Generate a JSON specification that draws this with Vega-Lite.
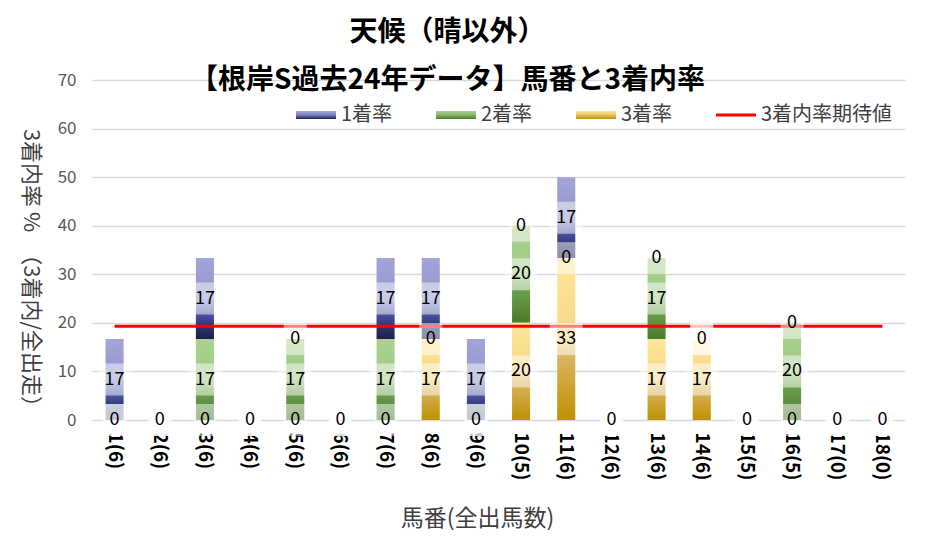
{
  "$schema": "https://vega.github.io/schema/vega-lite/v6.json",
  "width": 813,
  "height": 340,
  "autosize": {"type": "none"},
  "padding": {"left": 92, "top": 80, "right": 36, "bottom": 119},
  "background": "white",
  "config": {
    "font": "Noto Sans CJK JP",
    "view": {"stroke": null}
  },
  "title": {
    "text": ["天候（晴以外）", "【根岸S過去24年データ】馬番と3着内率"],
    "fontSize": 28,
    "fontWeight": "bold",
    "color": "#000000",
    "lineHeight": 48,
    "anchor": "middle",
    "frame": "group",
    "dx": -51,
    "offset": -24
  },
  "datasets": {
    "rates": [
      {"horse": "1(6)", "type": "1着率", "rate": 16.67},
      {"horse": "1(6)", "type": "2着率", "rate": 0},
      {"horse": "1(6)", "type": "3着率", "rate": 0},
      {"horse": "2(6)", "type": "1着率", "rate": 0},
      {"horse": "2(6)", "type": "2着率", "rate": 0},
      {"horse": "2(6)", "type": "3着率", "rate": 0},
      {"horse": "3(6)", "type": "1着率", "rate": 16.67},
      {"horse": "3(6)", "type": "2着率", "rate": 16.67},
      {"horse": "3(6)", "type": "3着率", "rate": 0},
      {"horse": "4(6)", "type": "1着率", "rate": 0},
      {"horse": "4(6)", "type": "2着率", "rate": 0},
      {"horse": "4(6)", "type": "3着率", "rate": 0},
      {"horse": "5(6)", "type": "1着率", "rate": 0},
      {"horse": "5(6)", "type": "2着率", "rate": 16.67},
      {"horse": "5(6)", "type": "3着率", "rate": 0},
      {"horse": "6(6)", "type": "1着率", "rate": 0},
      {"horse": "6(6)", "type": "2着率", "rate": 0},
      {"horse": "6(6)", "type": "3着率", "rate": 0},
      {"horse": "7(6)", "type": "1着率", "rate": 16.67},
      {"horse": "7(6)", "type": "2着率", "rate": 16.67},
      {"horse": "7(6)", "type": "3着率", "rate": 0},
      {"horse": "8(6)", "type": "1着率", "rate": 16.67},
      {"horse": "8(6)", "type": "2着率", "rate": 0},
      {"horse": "8(6)", "type": "3着率", "rate": 16.67},
      {"horse": "9(6)", "type": "1着率", "rate": 16.67},
      {"horse": "9(6)", "type": "2着率", "rate": 0},
      {"horse": "9(6)", "type": "3着率", "rate": 0},
      {"horse": "10(5)", "type": "1着率", "rate": 0},
      {"horse": "10(5)", "type": "2着率", "rate": 20},
      {"horse": "10(5)", "type": "3着率", "rate": 20},
      {"horse": "11(6)", "type": "1着率", "rate": 16.67},
      {"horse": "11(6)", "type": "2着率", "rate": 0},
      {"horse": "11(6)", "type": "3着率", "rate": 33.33},
      {"horse": "12(6)", "type": "1着率", "rate": 0},
      {"horse": "12(6)", "type": "2着率", "rate": 0},
      {"horse": "12(6)", "type": "3着率", "rate": 0},
      {"horse": "13(6)", "type": "1着率", "rate": 0},
      {"horse": "13(6)", "type": "2着率", "rate": 16.67},
      {"horse": "13(6)", "type": "3着率", "rate": 16.67},
      {"horse": "14(6)", "type": "1着率", "rate": 0},
      {"horse": "14(6)", "type": "2着率", "rate": 0},
      {"horse": "14(6)", "type": "3着率", "rate": 16.67},
      {"horse": "15(5)", "type": "1着率", "rate": 0},
      {"horse": "15(5)", "type": "2着率", "rate": 0},
      {"horse": "15(5)", "type": "3着率", "rate": 0},
      {"horse": "16(5)", "type": "1着率", "rate": 0},
      {"horse": "16(5)", "type": "2着率", "rate": 20},
      {"horse": "16(5)", "type": "3着率", "rate": 0},
      {"horse": "17(0)", "type": "1着率", "rate": 0},
      {"horse": "17(0)", "type": "2着率", "rate": 0},
      {"horse": "17(0)", "type": "3着率", "rate": 0},
      {"horse": "18(0)", "type": "1着率", "rate": 0},
      {"horse": "18(0)", "type": "2着率", "rate": 0},
      {"horse": "18(0)", "type": "3着率", "rate": 0}
    ],
    "expected": [
      {"horse": "1(6)", "series": "3着内率期待値", "value": 19.3},
      {"horse": "18(0)", "series": "3着内率期待値", "value": 19.3}
    ]
  },
  "encoding": {
    "x": {
      "field": "horse",
      "type": "nominal",
      "sort": null,
      "title": "馬番(全出馬数)",
      "scale": {
        "domain": ["1(6)", "2(6)", "3(6)", "4(6)", "5(6)", "6(6)", "7(6)", "8(6)", "9(6)", "10(5)", "11(6)", "12(6)", "13(6)", "14(6)", "15(5)", "16(5)", "17(0)", "18(0)"],
        "paddingInner": 0.6,
        "paddingOuter": 0.3
      },
      "axis": {
        "labelAngle": 90,
        "labelFontWeight": "bold",
        "labelFontSize": 19,
        "labelColor": "#000000",
        "labelPadding": 12,
        "ticks": false,
        "domain": false,
        "titleX": 385,
        "titleY": 98,
        "titleFontSize": 23,
        "titleFontWeight": "normal",
        "titleColor": "#404040",
        "titleAlign": "center",
        "titleBaseline": "middle"
      }
    }
  },
  "layer": [
    {
      "data": {"name": "rates"},
      "transform": [
        {"stack": "rate", "groupby": ["horse"], "sort": [{"field": "type", "order": "descending"}], "as": ["y0", "y1"]}
      ],
      "mark": {"type": "bar"},
      "encoding": {
        "y": {
          "field": "y0",
          "type": "quantitative",
          "title": "3着内率 %　（3着内/全出走）",
          "scale": {"domain": [0, 70]},
          "axis": {
            "values": [0, 10, 20, 30, 40, 50, 60, 70],
            "grid": true,
            "gridColor": "#d9d9d9",
            "gridWidth": 1.5,
            "domain": false,
            "ticks": false,
            "labelFontSize": 17,
            "labelColor": "#595959",
            "labelPadding": 16,
            "titleAngle": 90,
            "titleX": -62,
            "titleY": 193,
            "titleFontSize": 22,
            "titleFontWeight": "normal",
            "titleColor": "#404040",
            "titleAlign": "center",
            "titleBaseline": "middle"
          }
        },
        "y2": {"field": "y1"},
        "fill": {
          "condition": [
            {"test": "datum.type === '1着率'", "value": {"gradient": "linear", "x1": 0, "y1": 0, "x2": 0, "y2": 1, "stops": [
              {"offset": 0, "color": "#a1a5d7"},
              {"offset": 0.5, "color": "#9296cc"},
              {"offset": 0.7, "color": "#4a52a0"},
              {"offset": 0.85, "color": "#2d336e"},
              {"offset": 1, "color": "#1c1f4a"}
            ]}},
            {"test": "datum.type === '2着率'", "value": {"gradient": "linear", "x1": 0, "y1": 0, "x2": 0, "y2": 1, "stops": [
              {"offset": 0, "color": "#abd290"},
              {"offset": 0.5, "color": "#9ec985"},
              {"offset": 0.68, "color": "#6a9d4b"},
              {"offset": 1, "color": "#4a7a2c"}
            ]}}
          ],
          "value": {"gradient": "linear", "x1": 0, "y1": 0, "x2": 0, "y2": 1, "stops": [
            {"offset": 0, "color": "#ffe699"},
            {"offset": 0.5, "color": "#f6d888"},
            {"offset": 0.62, "color": "#d8b45e"},
            {"offset": 1, "color": "#bf9000"}
          ]}
        }
      }
    },
    {
      "data": {"name": "expected"},
      "mark": {"type": "line", "strokeWidth": 3},
      "encoding": {
        "y": {"field": "value", "type": "quantitative", "title": "3着内率 %　（3着内/全出走）"},
        "color": {
          "field": "series",
          "type": "nominal",
          "scale": {
            "domain": ["1着率", "2着率", "3着率", "3着内率期待値"],
            "range": ["#5b62ad", "#70a352", "#d9b04a", "#ff0000"]
          },
          "legend": {
            "orient": "none",
            "legendX": 204,
            "legendY": 15,
            "direction": "horizontal",
            "title": null,
            "symbolType": "M-1,-0.2L1,-0.2L1,0.2L-1,0.2Z",
            "symbolSize": 1600,
            "labelFontSize": 20,
            "labelColor": "#404040",
            "labelOffset": 5,
            "columnPadding": 43,
            "encode": {
              "symbols": {
                "update": {
                  "shape": {"signal": "datum.value === '3着内率期待値' ? 'M-1,-0.08L1,-0.08L1,0.08L-1,0.08Z' : 'M-1,-0.2L1,-0.2L1,0.2L-1,0.2Z'"},
                  "strokeWidth": {"value": 0},
                  "fill": {"signal": "datum.value === '1着率' ? {gradient: 'linear', x1: 0, y1: 0, x2: 0, y2: 1, stops: [{offset: 0, color: '#a1a5d7'}, {offset: 0.5, color: '#7a80bf'}, {offset: 1, color: '#1c1f4a'}]} : datum.value === '2着率' ? {gradient: 'linear', x1: 0, y1: 0, x2: 0, y2: 1, stops: [{offset: 0, color: '#abd290'}, {offset: 0.5, color: '#86b86a'}, {offset: 1, color: '#4a7a2c'}]} : datum.value === '3着率' ? {gradient: 'linear', x1: 0, y1: 0, x2: 0, y2: 1, stops: [{offset: 0, color: '#ffe699'}, {offset: 0.5, color: '#e8c46a'}, {offset: 1, color: '#bf9000'}]} : '#ff0000'"}
                }
              }
            }
          }
        }
      }
    },
    {
      "data": {"name": "rates"},
      "transform": [
        {"stack": "rate", "groupby": ["horse"], "sort": [{"field": "type", "order": "descending"}], "as": ["y0", "y1"]},
        {"calculate": "(datum.y0 + datum.y1) / 2", "as": "mid"}
      ],
      "mark": {"type": "point", "filled": true, "fill": "#ffffff", "opacity": 0.5, "strokeWidth": 0, "size": 1024},
      "encoding": {
        "y": {"field": "mid", "type": "quantitative", "title": "3着内率 %　（3着内/全出走）"},
        "shape": {
          "condition": {"test": "datum.rate < 0.5", "value": "M-0.72,-1L0.72,-1L0.72,1L-0.72,1Z"},
          "value": "M-1.03,-1L1.03,-1L1.03,1L-1.03,1Z"
        }
      }
    },
    {
      "data": {"name": "rates"},
      "transform": [
        {"stack": "rate", "groupby": ["horse"], "sort": [{"field": "type", "order": "descending"}], "as": ["y0", "y1"]},
        {"calculate": "(datum.y0 + datum.y1) / 2", "as": "mid"},
        {"aggregate": [{"op": "max", "field": "rate", "as": "label"}], "groupby": ["horse", "mid"]}
      ],
      "mark": {"type": "text", "fontSize": 18, "color": "#000000", "align": "center", "baseline": "middle"},
      "encoding": {
        "y": {"field": "mid", "type": "quantitative", "title": "3着内率 %　（3着内/全出走）"},
        "text": {"field": "label", "type": "quantitative", "format": ".0f"}
      }
    }
  ]
}
